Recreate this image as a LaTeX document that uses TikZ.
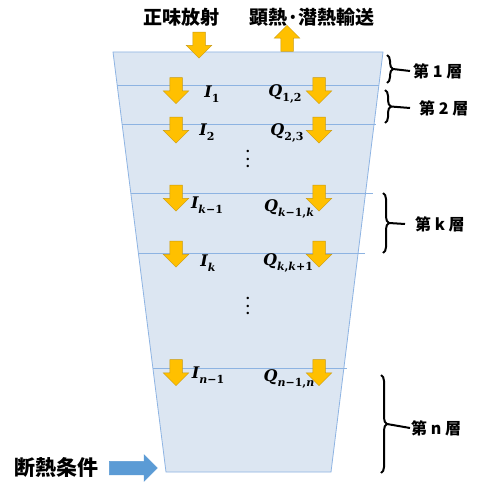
\documentclass[tikz,border=0pt]{standalone}
\usepackage{fontspec}
\newfontfamily\jp{Noto Sans CJK JP}
\newfontfamily\mf{DejaVu Serif}
\usetikzlibrary{shapes.arrows,decorations.pathreplacing}
\definecolor{layerfill}{HTML}{DCE6F2}
\definecolor{layeredge}{HTML}{8EB4E3}
\definecolor{sepline}{HTML}{8DB3E2}
\definecolor{yel}{HTML}{FFC000}
\definecolor{yeledge}{HTML}{C99A10}
\definecolor{blu}{HTML}{5B9BD5}
\newcommand\vbi[1]{{\bfseries\itshape #1}}
\newcommand\lsub[1]{\raisebox{-0.3em}{\fontsize{11}{13}\selectfont\bfseries #1}}
\newcommand\vdotsbig{\vbox{\baselineskip=7.5pt\lineskiplimit=0pt\hbox{.}\hbox{.}\hbox{.}}}
\tikzset{
  yarrow/.style={single arrow, draw=yeledge, fill=yel, line width=0.5pt,
    minimum height=26pt, minimum width=25pt, inner sep=6pt,
    single arrow head extend=6.5pt, anchor=center},
  ydown/.style={yarrow, rotate=-90},
  yup/.style={yarrow, rotate=90},
  barrow/.style={single arrow, draw=blu, fill=blu, line width=0.5pt,
    minimum height=48pt, minimum width=26pt, inner sep=6.5pt,
    single arrow head extend=6.5pt},
  lab/.style={inner sep=0pt, font=\mf\fontsize{16}{19}\selectfont},
  dots/.style={inner sep=0pt, font=\mf\bfseries\fontsize{13}{15}\selectfont},
  jtitle/.style={inner sep=0pt, font=\jp\bfseries\fontsize{19}{22}\selectfont},
  jlayer/.style={inner sep=0pt, anchor=west, font=\jp\bfseries\fontsize{16}{19}\selectfont},
  brc/.style={decorate, decoration={brace, amplitude=6pt}, line width=2pt, black},
  tick/.style={line width=2pt, black},
  sep/.style={sepline, line width=0.8pt},
  layer/.style={fill=layerfill, draw=layeredge, line width=0.8pt}
}
\begin{document}
\begin{tikzpicture}[x=1pt,y=-1pt]
\useasboundingbox (0,0) rectangle (480,484);
\fill[white] (0,0) rectangle (480,484);
% layer body
\draw[layer] (113,52) -- (383,52) -- (331,472) -- (166,472) -- cycle;
\draw[sep] (117.2,85) -- (379,85);
\draw[sep] (122.1,124) -- (376,124);
\draw[sep] (130.8,193) -- (373,193);
\draw[sep] (138.4,253) -- (365,253);
\draw[sep] (153.0,368) -- (347,368);
% top titles and arrows
\node[jtitle] (rad) at (181,17) {正味放射};
\node[jtitle] (flux) at (312,17) {顕熱·潜熱輸送};
\node[ydown] (aRad) at (199,42) {};
\node[yup] (aFlux) at (287,41.5) {};
% layer arrows
\node[ydown] (l1) at (176,87.5) {};
\node[ydown] (r1) at (319,87.5) {};
\node[ydown] (l2) at (176,127) {};
\node[ydown] (r2) at (319,127) {};
\node[ydown] (lk1) at (176,195) {};
\node[ydown] (rk1) at (319,195) {};
\node[ydown] (lk) at (176,251) {};
\node[ydown] (rk) at (319,251) {};
\node[ydown] (ln1) at (176,369.5) {};
\node[ydown] (rn1) at (319,369.5) {};
% labels
\node[lab] (I1) at (212,94) {\vbi{I}\lsub{1}};
\node[lab] (Q12) at (285,94) {\vbi{Q}\lsub{1,2}};
\node[lab] (I2) at (207,132) {\vbi{I}\lsub{2}};
\node[lab] (Q23) at (287,133) {\vbi{Q}\lsub{2,3}};
\node[dots] (d1) at (248,159) {\vdotsbig};
\node[lab] (Ik1) at (207,205) {\vbi{I}\lsub{\itshape k\upshape −1}};
\node[lab] (Qk1k) at (289,209) {\vbi{Q}\lsub{\itshape k\upshape −1,\itshape k}};
\node[lab] (Ik) at (208,263) {\vbi{I}\lsub{\itshape k}};
\node[lab] (Qkk1) at (288,263) {\vbi{Q}\lsub{\itshape k\upshape ,\itshape k\upshape +1}};
\node[dots] (d2) at (248,306) {\vdotsbig};
\node[lab] (In1) at (208,375) {\vbi{I}\lsub{\itshape n\upshape −1}};
\node[lab] (Qn1n) at (289,379) {\vbi{Q}\lsub{\itshape n\upshape −1,\itshape n}};
% braces
\draw[brc] (387,55) -- (387,83);
\coordinate (t1) at (393,69);
\node[jlayer] (L1) at (413,71) {第 1 層};
\draw[tick] (t1) -- (L1.west -| 410,0);
\draw[brc] (385,90) -- (385,123);
\coordinate (t2) at (391,106.5);
\node[jlayer] (L2) at (419,108) {第 2 層};
\draw[tick] (t2) -- (L2.west -| 410,0);
\draw[brc] (383,193) -- (383,253);
\coordinate (tk) at (389,223);
\node[jlayer] (Lk) at (415,224) {第 k 層};
\draw[tick] (tk) -- (Lk.west -| 405,0);
\draw[brc] (381,375) -- (381,473);
\coordinate (tn) at (387,424);
\node[jlayer] (Ln) at (411,428) {第 n 層};
\draw[tick] (tn) -- (Ln.west -| 410,0);
% bottom boundary
\node[inner sep=0pt, font=\jp\bfseries\fontsize{21}{25}\selectfont] (adi) at (56,468) {断熱条件};
\node[barrow] (aAdi) at (130,468) {};
\end{tikzpicture}
\end{document}
